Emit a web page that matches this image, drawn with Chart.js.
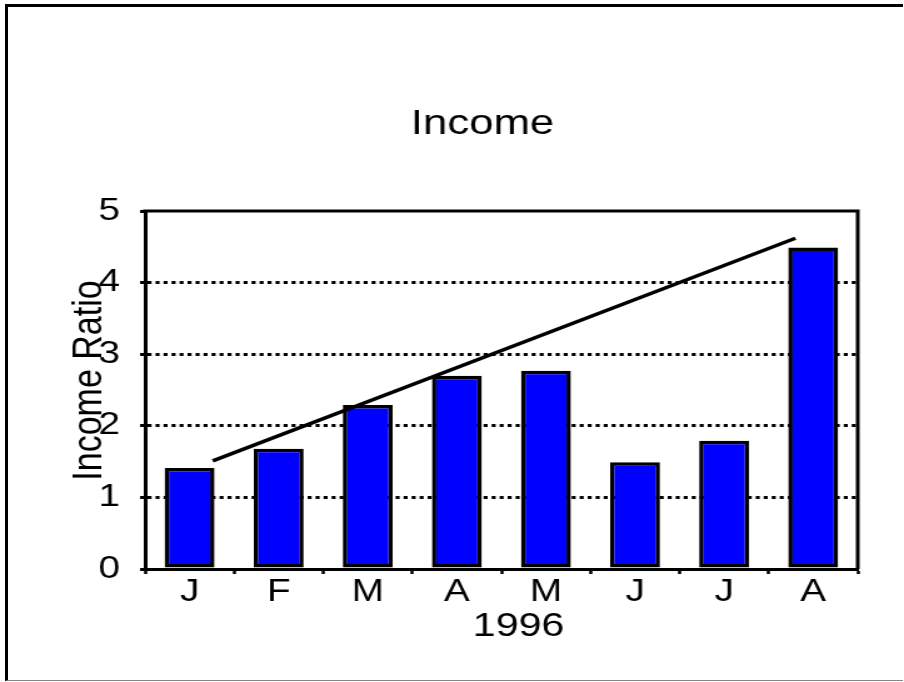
<!DOCTYPE html>
<html lang="en">
<head>
    <meta charset="UTF-8">
    <title>Income</title>
    <script src="https://cdn.jsdelivr.net/npm/chart.js"></script>
    <style>
        body { margin: 0; background: #fff; overflow: hidden; }
        #wrap { position: relative; width: 904px; height: 682px; }
        /* the chart was drawn narrower and stretched sideways, so the canvas is too */
        #incomeChart { width: 904px; height: 682px; }
        #frame {
            position: absolute; left: 5px; top: 4px; width: 895px; height: 673px;
            border-top: 3px solid #000; border-left: 3px solid #000; border-bottom: 1px solid #888;
            pointer-events: none;
        }
    </style>
</head>
<body>
    <div id="wrap">
        <canvas id="incomeChart" width="723" height="682" style="width:904px;height:682px"></canvas>
        <div id="frame"></div>
    </div>

    <script>
        // months of 1996
        const months = ['J', 'F', 'M', 'A', 'M', 'J', 'J', 'A'];
        const incomeRatio = [1.41, 1.68, 2.29, 2.70, 2.77, 1.49, 1.79, 4.49];
        // hand drawn trend line: start and end (x in category units)
        const trendX = [0.26, 6.80];
        const trendY = [1.51, 4.62];
        const yTicks = [0, 1, 2, 3, 4, 5];

        const font = 'Liberation Sans, Arial, sans-serif';

        // top and right edges of the plot box
        const plotFrame = {
            id: 'plotFrame',
            afterDatasetsDraw(chart) {
                const { ctx, chartArea: a } = chart;
                ctx.save();
                ctx.strokeStyle = '#000';
                ctx.lineWidth = 3;
                ctx.beginPath();
                ctx.moveTo(a.left - 1.5, a.top);
                ctx.lineTo(a.right, a.top);
                ctx.lineTo(a.right, a.bottom);
                ctx.stroke();
                ctx.restore();
            }
        };

        const ctx = document.getElementById('incomeChart').getContext('2d');

        new Chart(ctx, {
            data: {
                labels: months,
                datasets: [{
                    type: 'line',
                    label: 'Trend',
                    data: trendX.map((x, i) => ({ x: x, y: trendY[i] })),
                    xAxisID: 'x2',
                    yAxisID: 'y',
                    borderColor: '#000',
                    borderWidth: 3.5,
                    pointRadius: 0,
                    fill: false,
                    order: 0
                }, {
                    type: 'bar',
                    label: 'Income Ratio',
                    data: incomeRatio,
                    backgroundColor: '#0000ff',
                    borderColor: '#000',
                    borderWidth: 3.5,
                    borderSkipped: false,
                    grouped: false,
                    categoryPercentage: 1,
                    barPercentage: 0.56,
                    order: 1
                }]
            },
            options: {
                responsive: false,
                devicePixelRatio: 1,
                animation: false,
                layout: { padding: { left: 76, right: 37, top: 0, bottom: 35 } },
                plugins: {
                    legend: { display: false },
                    tooltip: { enabled: false },
                    title: {
                        display: true,
                        text: ' Income',
                        color: '#000',
                        font: { family: font, size: 35, weight: 'normal' },
                        padding: { top: 103, bottom: 66 }
                    }
                },
                scales: {
                    x: {
                        type: 'category',
                        offset: true,
                        afterFit: s => { s.height = 78; },
                        border: { color: '#000', width: 3 },
                        grid: {
                            offset: true,
                            drawOnChartArea: false,
                            tickLength: 5,
                            tickColor: '#000',
                            tickWidth: 2.5
                        },
                        ticks: {
                            color: '#000',
                            padding: 0,
                            maxRotation: 0,
                            autoSkip: false,
                            font: { family: font, size: 31 }
                        },
                        title: {
                            display: true,
                            text: '   1996',
                            color: '#000',
                            padding: 0,
                            font: { family: font, size: 33 }
                        }
                    },
                    x2: {
                        type: 'linear',
                        display: false,
                        min: -0.5,
                        max: 7.5
                    },
                    y: {
                        min: 0,
                        max: 5,
                        afterFit: s => { s.width = 40; },
                        afterBuildTicks: s => {
                            const t = [];
                            for (let i = 0; i <= 10; i++) t.push({ value: i / 2 });
                            s.ticks = t;
                        },
                        border: { color: '#000', width: 3, dash: [3.2, 3.2] },
                        grid: {
                            color: c => (yTicks.includes(c.tick.value) && c.tick.value > 0 && c.tick.value < 5) ? '#000' : 'rgba(0,0,0,0)',
                            lineWidth: 3,
                            tickLength: 4,
                            tickColor: '#000',
                            tickWidth: c => yTicks.includes(c.tick.value) ? 3 : 2,
                            tickBorderDash: []
                        },
                        ticks: {
                            color: '#000',
                            padding: 16,
                            font: { family: font, size: 31 },
                            callback: v => yTicks.includes(v) ? String(v) : ''
                        },
                        title: {
                            display: true,
                            text: '  Income Ratio',
                            color: '#000',
                            padding: { top: -25, bottom: 0 },
                            font: { family: font, size: 34 }
                        }
                    }
                }
            },
            plugins: [plotFrame]
        });
    </script>
</body>
</html>
